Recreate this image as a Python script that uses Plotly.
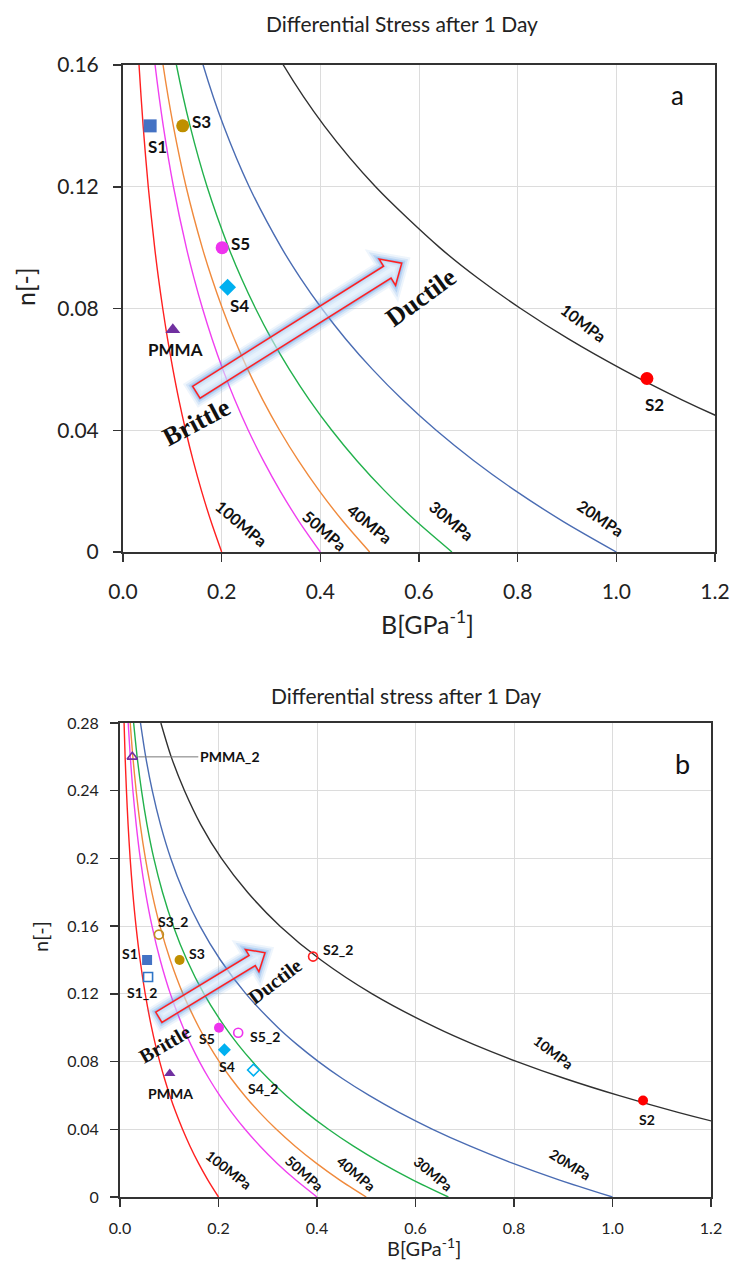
import math
import plotly.graph_objects as go

# ------------------------------------------------------------------
# DATA
# ------------------------------------------------------------------
N_VALUES = [0.00, 0.01, 0.02, 0.03, 0.04, 0.05, 0.06, 0.07, 0.08, 0.09,
            0.10, 0.12, 0.14, 0.16, 0.18, 0.20, 0.22, 0.24, 0.26, 0.28]

B_100MPA = [0.200, 0.1785, 0.1593, 0.1422, 0.1270, 0.1133, 0.1012, 0.0903, 0.0806, 0.0719,
            0.0642, 0.0512, 0.0408, 0.0325, 0.0259, 0.0206, 0.0164, 0.0131, 0.0104, 0.0083]
B_50MPA = [0.400, 0.3570, 0.3187, 0.2845, 0.2539, 0.2266, 0.2023, 0.1806, 0.1612, 0.1439,
           0.1284, 0.1023, 0.0816, 0.0650, 0.0518, 0.0412, 0.0329, 0.0262, 0.0209, 0.0166]
B_40MPA = [0.500, 0.4463, 0.3984, 0.3556, 0.3174, 0.2833, 0.2529, 0.2257, 0.2015, 0.1799,
           0.1606, 0.1279, 0.1020, 0.0812, 0.0647, 0.0516, 0.0411, 0.0328, 0.0261, 0.0208]
B_30MPA = [0.6667, 0.5951, 0.5311, 0.4741, 0.4232, 0.3777, 0.3372, 0.3009, 0.2687, 0.2398,
           0.2141, 0.1705, 0.1359, 0.1083, 0.0863, 0.0687, 0.0548, 0.0437, 0.0348, 0.0277]
B_20MPA = [1.000, 0.8926, 0.7967, 0.7112, 0.6348, 0.5666, 0.5058, 0.4514, 0.4030, 0.3597,
           0.3211, 0.2558, 0.2039, 0.1624, 0.1294, 0.1031, 0.0822, 0.0655, 0.0522, 0.0416]
B_10MPA = [2.000, 1.785, 1.593, 1.422, 1.270, 1.133, 1.012, 0.903, 0.806, 0.719,
           0.642, 0.512, 0.408, 0.325, 0.259, 0.206, 0.164, 0.131, 0.104, 0.083]

STRESS_LABELS = ["100MPa", "50MPa", "40MPa", "30MPa", "20MPa", "10MPa"]

SAMPLE_NAMES = ["S1", "S3", "S5", "S4", "PMMA", "S2"]
SAMPLE_B = [0.055, 0.121, 0.201, 0.212, 0.101, 1.062]
SAMPLE_N = [0.140, 0.140, 0.100, 0.087, 0.073, 0.057]

SAMPLE2_NAMES = ["S1_2", "S3_2", "S2_2", "S5_2", "S4_2", "PMMA_2"]
SAMPLE2_B = [0.057, 0.079, 0.392, 0.240, 0.271, 0.025]
SAMPLE2_N = [0.130, 0.155, 0.142, 0.097, 0.075, 0.260]

X_TICKS = [0.0, 0.2, 0.4, 0.6, 0.8, 1.0, 1.2]
Y_TICKS_A = [0, 0.04, 0.08, 0.12, 0.16]
Y_TICKS_B = [0, 0.04, 0.08, 0.12, 0.16, 0.2, 0.24, 0.28]

TITLE_A = "Differential Stress after 1 Day"
TITLE_B = "Differential stress after 1 Day"

# ------------------------------------------------------------------
# STYLE / LAYOUT
# ------------------------------------------------------------------
W, H = 733, 1263
FONT = "Lato"
SERIF = "Liberation Serif"

CURVES = [B_100MPA, B_50MPA, B_40MPA, B_30MPA, B_20MPA, B_10MPA]
CURVE_COLORS = ["#ff2020", "#f040f0", "#f08a3c", "#22b14c", "#4a6cb3", "#303030"]

SAMPLE_STYLE = {
    "S1": ("square", "#4472c4"), "S3": ("circle", "#bf8f00"),
    "S5": ("circle", "#ee33ee"), "S4": ("diamond", "#00b0f0"),
    "PMMA": ("triangle-up", "#7030a0"), "S2": ("circle", "#ff0000"),
    "S1_2": ("square-open", "#2e75c8"), "S3_2": ("circle-open", "#c09020"),
    "S2_2": ("circle-open", "#ff2020"), "S5_2": ("circle-open", "#ee33ee"),
    "S4_2": ("diamond-open", "#00b0f0"), "PMMA_2": ("triangle-up-open", "#7030a0"),
}

# panel geometry in pixels (left, right, top, bottom)
PANELS = {
    "a": dict(px=(123, 715, 65, 552), yr=0.16, xa="x", ya="y", yticks=Y_TICKS_A,
              tickfont=21, titlefont=25, msize=13, lblfont=17, curvefont=16,
              serif=26, xtitle_y=622),
    "b": dict(px=(120, 711, 723, 1197), yr=0.28, xa="x2", ya="y2", yticks=Y_TICKS_B,
              tickfont=16, titlefont=20, msize=10, lblfont=14, curvefont=14,
              serif=20, xtitle_y=1247),
}

# label placements (B, n, angle) per panel for the stress curves
CURVE_LABEL_POS = {
    "a": [(0.2405, 0.0093, 40), (0.409, 0.0071, 41), (0.50, 0.0093, 39),
          (0.666, 0.0104, 40), (0.967, 0.0113, 34), (0.933, 0.0754, 37)],
    "b": [(0.220, 0.0160, 38), (0.3756, 0.0140, 42), (0.480, 0.0140, 40),
          (0.636, 0.0140, 40), (0.915, 0.0194, 32), (0.881, 0.0855, 37)],
}

# marker label offsets in pixels (dx, dy up)
LABEL_OFFSETS_A = {"S1": (7, -21), "S3": (19, 4), "S5": (18, 4), "S4": (12, -18),
                   "PMMA": (3, -20), "S2": (8, -26)}
LABEL_OFFSETS_B = {"S1": (-17, 7), "S3": (17, 7), "S5": (-12, -11), "S4": (3, -17),
                   "PMMA": (1, -20), "S2": (4, -19), "S1_2": (-6, -16),
                   "S3_2": (14, 13), "S2_2": (25, 7), "S5_2": (27, -4),
                   "S4_2": (10, -18)}

# decorative hollow arrow (tail B,n ; tip B,n ; shaft, head width, head length in px)
ARROWS = {
    "a": ((0.1486, 0.0525), (0.565, 0.0949), 14, 31, 17),
    "b": ((0.0788, 0.1062), (0.2944, 0.1443), 12, 26, 15),
}
REGIME_TEXT = {
    "a": [("Brittle", 0.1476, 0.0427, -28), ("Ductile", 0.6035, 0.0837, -36)],
    "b": [("Brittle", 0.0907, 0.0904, -30), ("Ductile", 0.3147, 0.1278, -37)],
}
PANEL_LETTER = {"a": (1.124, 0.150, 26), "b": (1.142, 0.256, 27)}


def px2paper_x(px):
    return px / W


def px2paper_y(py):
    return 1 - py / H


fig = go.Figure()
annotations = []
shapes = []

for key, P in PANELS.items():
    l, r, t, b = P["px"]
    xa, ya = P["xa"], P["ya"]
    sx = (r - l) / 1.2
    sy = (b - t) / P["yr"]

    # stress curves
    for name, bvals, col in zip(STRESS_LABELS, CURVES, CURVE_COLORS):
        fig.add_trace(go.Scatter(
            x=bvals, y=N_VALUES, mode="lines", name=name, xaxis=xa, yaxis=ya,
            line=dict(color=col, width=1.4, shape="spline", smoothing=0.8),
            showlegend=False, hoverinfo="skip"))

    # curve labels
    for name, (bx, ny, ang), col in zip(STRESS_LABELS, CURVE_LABEL_POS[key], CURVE_COLORS):
        annotations.append(dict(
            x=bx, y=ny, xref=xa, yref=ya, text="<b>%s</b>" % name, showarrow=False,
            textangle=ang, font=dict(family=FONT, size=P["curvefont"], color="#111"),
            xanchor="center", yanchor="middle"))

    # samples (solid)
    for nm, bx, ny in zip(SAMPLE_NAMES, SAMPLE_B, SAMPLE_N):
        sym, col = SAMPLE_STYLE[nm]
        fig.add_trace(go.Scatter(
            x=[bx], y=[ny], mode="markers", xaxis=xa, yaxis=ya, showlegend=False,
            marker=dict(symbol=sym, color=col, size=P["msize"], line=dict(width=0)),
            hoverinfo="skip"))
        offs = LABEL_OFFSETS_A if key == "a" else LABEL_OFFSETS_B
        dx, dy = offs[nm]
        annotations.append(dict(
            x=bx, y=ny, xref=xa, yref=ya, text="<b>%s</b>" % nm, showarrow=False,
            xshift=dx, yshift=dy, font=dict(family=FONT, size=P["lblfont"], color="#111")))

    # samples (hollow, panel b only)
    if key == "b":
        for nm, bx, ny in zip(SAMPLE2_NAMES, SAMPLE2_B, SAMPLE2_N):
            sym, col = SAMPLE_STYLE[nm]
            fig.add_trace(go.Scatter(
                x=[bx], y=[ny], mode="markers", xaxis=xa, yaxis=ya, showlegend=False,
                marker=dict(symbol=sym, color=col, size=P["msize"] - 1,
                            line=dict(width=1.6, color=col)),
                hoverinfo="skip"))
            if nm == "PMMA_2":
                annotations.append(dict(
                    x=bx, y=ny, xref=xa, yref=ya, text="<b>%s</b>" % nm,
                    showarrow=True, arrowhead=0, arrowwidth=1, arrowcolor="#777",
                    ax=66, ay=0, xanchor="left", standoff=6,
                    font=dict(family=FONT, size=P["lblfont"], color="#111")))
            else:
                dx, dy = LABEL_OFFSETS_B[nm]
                annotations.append(dict(
                    x=bx, y=ny, xref=xa, yref=ya, text="<b>%s</b>" % nm, showarrow=False,
                    xshift=dx, yshift=dy,
                    font=dict(family=FONT, size=P["lblfont"], color="#111")))

    # hollow arrow with glow
    (tb, tn), (hb, hn), sw, hw, hl = ARROWS[key]
    p0 = (tb * sx, tn * sy)
    p1 = (hb * sx, hn * sy)
    L = math.hypot(p1[0] - p0[0], p1[1] - p0[1])
    ux, uy = (p1[0] - p0[0]) / L, (p1[1] - p0[1]) / L
    vx, vy = -uy, ux
    base = (p1[0] - ux * hl, p1[1] - uy * hl)
    pts = [
        (p0[0] + vx * sw / 2, p0[1] + vy * sw / 2),
        (base[0] + vx * sw / 2, base[1] + vy * sw / 2),
        (base[0] + vx * hw / 2, base[1] + vy * hw / 2),
        p1,
        (base[0] - vx * hw / 2, base[1] - vy * hw / 2),
        (base[0] - vx * sw / 2, base[1] - vy * sw / 2),
        (p0[0] - vx * sw / 2, p0[1] - vy * sw / 2),
    ]
    path = "M " + " L ".join("%.5f,%.5f" % (px_ / sx, py_ / sy) for px_, py_ in pts) + " Z"
    for w_, op in [(14, 0.10), (10, 0.16), (6, 0.25), (3, 0.35)]:
        shapes.append(dict(type="path", path=path, xref=xa, yref=ya,
                           line=dict(color="rgba(91,155,230,%.2f)" % op, width=w_),
                           fillcolor="rgba(0,0,0,0)", layer="above"))
    shapes.append(dict(type="path", path=path, xref=xa, yref=ya,
                       line=dict(color="#ff2020", width=1.5),
                       fillcolor="rgba(225,238,252,0.55)", layer="above"))

    # Brittle / Ductile
    for txt, bx, ny, ang in REGIME_TEXT[key]:
        annotations.append(dict(
            x=bx, y=ny, xref=xa, yref=ya, text="<b>%s</b>" % txt, showarrow=False,
            textangle=ang, font=dict(family=SERIF, size=P["serif"], color="#111")))

    # panel letter
    lb, ln, lf = PANEL_LETTER[key]
    annotations.append(dict(x=lb, y=ln, xref=xa, yref=ya, text=key, showarrow=False,
                            font=dict(family=FONT, size=lf, color="#111")))

    # axis titles
    annotations.append(dict(
        x=px2paper_x((l + r) / 2 + 8), y=px2paper_y(P["xtitle_y"]),
        xref="paper", yref="paper", text="B[GPa<sup>-1</sup>]", showarrow=False,
        font=dict(family=FONT, size=P["titlefont"], color="#222"),
        xanchor="center", yanchor="middle"))
    annotations.append(dict(
        x=px2paper_x(25 if key == "a" else 40),
        y=px2paper_y(287 if key == "a" else 937),
        xref="paper", yref="paper", text="n[-]", showarrow=False, textangle=-90,
        font=dict(family=FONT, size=P["titlefont"], color="#222"),
        xanchor="center", yanchor="middle"))

    # axes
    axis_common = dict(showline=True, linecolor="#333", linewidth=2, mirror=True,
                       showgrid=True, gridcolor="#dcdcdc", gridwidth=1, zeroline=False,
                       ticks="outside", ticklen=8, tickcolor="#333", tickwidth=1.5,
                       automargin=False)
    xname = "xaxis" if key == "a" else "xaxis2"
    yname = "yaxis" if key == "a" else "yaxis2"
    fig.update_layout(**{
        xname: dict(domain=[px2paper_x(l), px2paper_x(r)], range=[0, 1.2],
                    anchor=ya, tickvals=X_TICKS, tickformat=".1f",
                    tickfont=dict(family=FONT, size=P["tickfont"], color="#222"),
                    ticklabelstandoff=12 if key == "a" else 8, **axis_common),
        yname: dict(domain=[px2paper_y(b), px2paper_y(t)], range=[0, P["yr"]],
                    anchor=xa, tickvals=P["yticks"],
                    ticktext=[("%g" % v) for v in P["yticks"]],
                    tickfont=dict(family=FONT, size=P["tickfont"], color="#222"),
                    ticklabelstandoff=10 if key == "a" else 8, **axis_common),
    })

# titles
annotations.append(dict(x=px2paper_x(402), y=px2paper_y(24), xref="paper", yref="paper",
                        text=TITLE_A, showarrow=False, yanchor="middle",
                        font=dict(family=FONT, size=21, color="#222")))
annotations.append(dict(x=px2paper_x(406), y=px2paper_y(696), xref="paper", yref="paper",
                        text=TITLE_B, showarrow=False, yanchor="middle",
                        font=dict(family=FONT, size=21, color="#222")))

fig.update_layout(
    width=W, height=H, autosize=False,
    margin=dict(l=0, r=0, t=0, b=0),
    paper_bgcolor="white", plot_bgcolor="white",
    annotations=annotations, shapes=shapes, showlegend=False,
)

fig.write_html(
    "out.html",
    config={"displayModeBar": False, "staticPlot": True},
    post_script="document.body.style.margin='0';document.body.style.padding='0';"
                "document.documentElement.style.overflow='hidden';",
)
